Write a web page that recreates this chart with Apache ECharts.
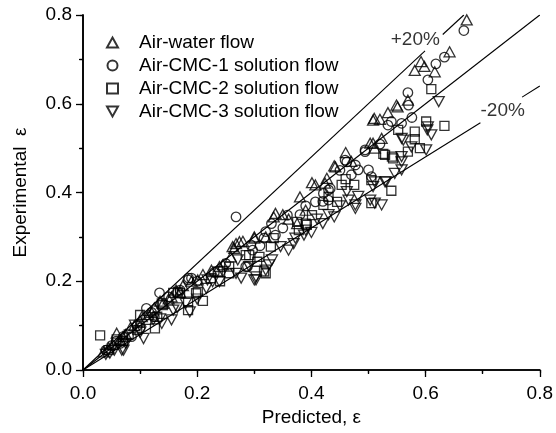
<!DOCTYPE html>
<html><head><meta charset="utf-8">
<script src="https://cdn.jsdelivr.net/npm/echarts@6/dist/echarts.min.js"></script>
<style>html,body{margin:0;padding:0;background:#fff}#c{width:556px;height:433px}</style>
</head><body><div id="c"></div>
<script>
const seriesNames = ['Air-water flow','Air-CMC-1 solution flow','Air-CMC-2 solution flow','Air-CMC-3 solution flow'];
const xTicks = [0, 0.2, 0.4, 0.6, 0.8];
const airWater = [[0.036,0.041],[0.045,0.05],[0.052,0.058],[0.059,0.083],[0.065,0.068],[0.07,0.075],[0.075,0.08],[0.083,0.095],[0.09,0.1],[0.1,0.11],[0.103,0.12],[0.115,0.125],[0.12,0.13],[0.125,0.14],[0.135,0.155],[0.14,0.15],[0.15,0.16],[0.155,0.165],[0.163,0.18],[0.17,0.175],[0.175,0.19],[0.19,0.2],[0.201,0.203],[0.21,0.215],[0.225,0.225],[0.239,0.233],[0.245,0.237],[0.259,0.255],[0.262,0.278],[0.265,0.274],[0.268,0.285],[0.274,0.289],[0.28,0.29],[0.30,0.30],[0.3,0.297],[0.32,0.3],[0.334,0.345],[0.337,0.353],[0.35,0.35],[0.36,0.34],[0.375,0.33],[0.38,0.39],[0.39,0.36],[0.401,0.422],[0.407,0.417],[0.424,0.421],[0.427,0.432],[0.44,0.46],[0.442,0.458],[0.46,0.49],[0.47,0.47],[0.503,0.511],[0.508,0.511],[0.511,0.5],[0.508,0.563],[0.51,0.567],[0.52,0.565],[0.523,0.522],[0.534,0.58],[0.549,0.597],[0.551,0.593],[0.569,0.608],[0.581,0.675],[0.592,0.695],[0.598,0.684],[0.616,0.672],[0.642,0.717],[0.672,0.789]];
const cmc1 = [[0.04,0.045],[0.05,0.055],[0.058,0.065],[0.065,0.06],[0.07,0.075],[0.085,0.075],[0.095,0.1],[0.1,0.095],[0.111,0.139],[0.12,0.13],[0.125,0.12],[0.134,0.174],[0.15,0.165],[0.17,0.18],[0.184,0.203],[0.185,0.207],[0.19,0.207],[0.2,0.2],[0.23,0.22],[0.25,0.24],[0.268,0.345],[0.285,0.233],[0.288,0.233],[0.294,0.282],[0.297,0.27],[0.31,0.28],[0.317,0.297],[0.32,0.312],[0.33,0.33],[0.337,0.304],[0.35,0.32],[0.358,0.349],[0.38,0.35],[0.39,0.37],[0.407,0.379],[0.42,0.38],[0.421,0.398],[0.43,0.383],[0.43,0.406],[0.433,0.409],[0.45,0.45],[0.459,0.473],[0.462,0.469],[0.47,0.44],[0.477,0.462],[0.482,0.451],[0.494,0.496],[0.494,0.492],[0.5,0.451],[0.505,0.436],[0.52,0.509],[0.534,0.552],[0.54,0.56],[0.558,0.556],[0.569,0.625],[0.57,0.597],[0.576,0.569],[0.604,0.654],[0.618,0.69],[0.633,0.705],[0.667,0.765]];
const cmc2 = [[0.03,0.078],[0.045,0.045],[0.059,0.069],[0.07,0.065],[0.08,0.08],[0.095,0.09],[0.1,0.124],[0.111,0.113],[0.126,0.094],[0.13,0.12],[0.138,0.15],[0.14,0.146],[0.158,0.174],[0.166,0.176],[0.17,0.173],[0.184,0.135],[0.184,0.154],[0.198,0.173],[0.201,0.176],[0.21,0.156],[0.224,0.207],[0.236,0.222],[0.24,0.2],[0.256,0.233],[0.256,0.218],[0.285,0.259],[0.291,0.259],[0.305,0.244],[0.309,0.255],[0.317,0.222],[0.32,0.218],[0.329,0.278],[0.334,0.297],[0.375,0.334],[0.378,0.315],[0.39,0.33],[0.392,0.327],[0.401,0.349],[0.421,0.372],[0.43,0.39],[0.445,0.379],[0.453,0.417],[0.46,0.43],[0.475,0.417],[0.505,0.376],[0.505,0.428],[0.526,0.487],[0.529,0.485],[0.54,0.404],[0.541,0.481],[0.543,0.477],[0.552,0.541],[0.569,0.492],[0.581,0.537],[0.581,0.52],[0.59,0.5],[0.601,0.56],[0.61,0.633],[0.633,0.55]];
const cmc3 = [[0.04,0.035],[0.047,0.038],[0.055,0.045],[0.068,0.045],[0.071,0.045],[0.075,0.06],[0.091,0.101],[0.1,0.085],[0.106,0.071],[0.123,0.113],[0.135,0.115],[0.138,0.105],[0.155,0.113],[0.158,0.135],[0.165,0.14],[0.18,0.15],[0.187,0.131],[0.2,0.16],[0.216,0.184],[0.218,0.203],[0.227,0.199],[0.239,0.199],[0.245,0.222],[0.268,0.218],[0.271,0.248],[0.277,0.207],[0.291,0.233],[0.3,0.203],[0.303,0.21],[0.303,0.203],[0.32,0.225],[0.326,0.237],[0.331,0.248],[0.346,0.278],[0.36,0.27],[0.369,0.285],[0.372,0.297],[0.387,0.304],[0.39,0.315],[0.40,0.31],[0.41,0.34],[0.42,0.33],[0.43,0.35],[0.44,0.345],[0.45,0.37],[0.462,0.402],[0.465,0.383],[0.477,0.372],[0.477,0.364],[0.482,0.391],[0.503,0.383],[0.508,0.413],[0.511,0.424],[0.511,0.376],[0.523,0.372],[0.529,0.424],[0.531,0.424],[0.546,0.443],[0.558,0.451],[0.558,0.469],[0.558,0.481],[0.558,0.522],[0.561,0.518],[0.575,0.503],[0.601,0.496],[0.603,0.541],[0.604,0.548],[0.61,0.53],[0.623,0.605]];
const parityLine = [[0,0],[0.8,0.8]];
const plus20Low = [[0,0],[0.599,0.719]];
const plus20High = [[0.630,0.756],[0.667,0.8]];
const minus20Low = [[0,0],[0.696,0.557]];
const minus20High = [[0.769,0.615],[0.8,0.64]];
const bandLabels = [{value:[0.582,0.744], text:'+20%'},{value:[0.735,0.584], text:'-20%'}];

const FONT = 'Liberation Sans, Arial, sans-serif';
const downTri = 'path://M0,0 L10,0 L5,9 Z';
const symbols = ['triangle','circle','rect',downTri];
const sizes = [[11,10],9.5,9,[11,10]];
const datasets = [airWater, cmc1, cmc2, cmc3];

const chart = echarts.init(document.getElementById('c'), null, {renderer:'canvas'});
const lineSeries = [parityLine, plus20Low, plus20High, minus20Low, minus20High].map(d => ({
  type:'line', data:d, symbol:'none', silent:true, z:1,
  lineStyle:{color:'#000', width:1.1}
}));
const scatterSeries = datasets.map((d,i) => ({
  name: seriesNames[i], type:'scatter', data:d, symbol:symbols[i], symbolSize:sizes[i], z:3,
  itemStyle:{color:'rgba(255,255,255,0)', borderColor:'#000', borderWidth:1.3}
}));
const labelSeries = {
  type:'scatter', symbolSize:0, silent:true, z:4,
  data: bandLabels.map(b => ({value:b.value, label:{show:true, formatter:b.text}})),
  label:{position:'inside', color:'#000', fontSize:19, fontFamily:FONT}
};
const axisCommon = {
  type:'value', min:0, max:0.8, interval:0.2,
  splitLine:{show:false},
  axisLine:{show:true, lineStyle:{color:'#000', width:1.6}},
};
chart.setOption({
  animation:false,
  backgroundColor:'#fff',
  grid:{left:83, right:13, top:15, bottom:63},
  legend:{
    data: seriesNames.map((n,i)=>({name:n, icon: symbols[i]})),
    orient:'vertical', left:101, top:28, itemWidth:11, itemHeight:10, itemGap:4,
    textStyle:{fontSize:19, fontFamily:FONT, color:'#000', padding:[0,0,0,16]},
    selectedMode:false
  },
  xAxis:[
    Object.assign({}, axisCommon, {
      position:'bottom', name:'Predicted, ε', nameLocation:'middle', nameGap:35,
      nameTextStyle:{fontSize:19, fontFamily:FONT, color:'#000'},
      axisTick:{show:true, inside:false, length:7, lineStyle:{color:'#000', width:1.3}},
      minorTick:{show:true, splitNumber:2, length:4, lineStyle:{color:'#000', width:1.3}},
      axisLabel:{fontSize:19, fontFamily:FONT, color:'#000', margin:14, formatter:v=>v.toFixed(1)}
    }),
    Object.assign({}, axisCommon, {
      position:'top',
      axisTick:{show:true, inside:true, length:3, lineStyle:{color:'#000', width:1.2}},
      minorTick:{show:true, splitNumber:2, length:3, lineStyle:{color:'#000', width:1.2}},
      axisLabel:{show:false}
    })
  ],
  yAxis:[
    Object.assign({}, axisCommon, {
      position:'left', name:'Experimental  ε', nameLocation:'middle', nameGap:53,
      nameTextStyle:{fontSize:19, fontFamily:FONT, color:'#000'},
      axisTick:{show:true, inside:false, length:7, lineStyle:{color:'#000', width:1.3}},
      minorTick:{show:true, splitNumber:2, length:4, lineStyle:{color:'#000', width:1.3}},
      axisLabel:{fontSize:19, fontFamily:FONT, color:'#000', margin:11, formatter:v=>v.toFixed(1)}
    }),
    Object.assign({}, axisCommon, {
      position:'right',
      axisTick:{show:true, inside:true, length:3, lineStyle:{color:'#000', width:1.2}},
      minorTick:{show:true, splitNumber:2, length:3, lineStyle:{color:'#000', width:1.2}},
      axisLabel:{show:false}
    })
  ],
  series: lineSeries.concat(scatterSeries, [labelSeries])
});
</script></body></html>
